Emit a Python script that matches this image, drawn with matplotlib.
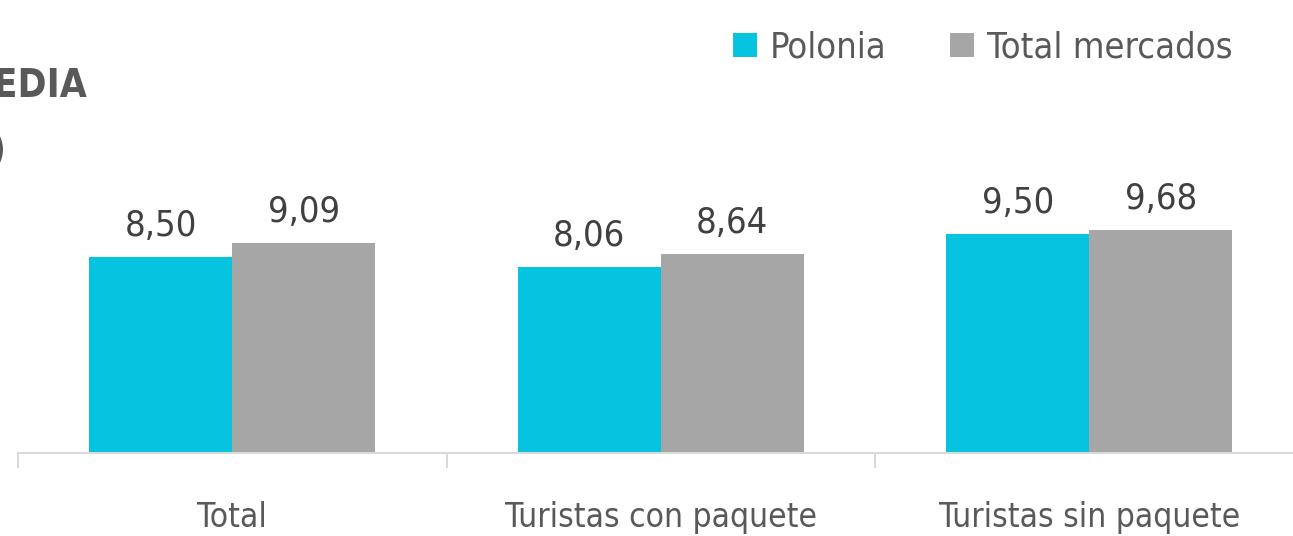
import matplotlib
matplotlib.use("Agg")
import matplotlib.pyplot as plt
from matplotlib import font_manager
from matplotlib.patches import Rectangle

categories = ["Total", "Turistas con paquete", "Turistas sin paquete"]
series_names = ["Polonia", "Total mercados"]
polonia = [8.50, 8.06, 9.50]
total_mercados = [9.09, 8.64, 9.68]
value_labels_polonia = ["8,50", "8,06", "9,50"]
value_labels_total = ["9,09", "8,64", "9,68"]

colors = ["#06C3E0", "#A6A6A6"]
text_gray = "#595959"
value_gray = "#404040"

available = {f.name for f in font_manager.fontManager.ttflist}
if "Liberation Sans Narrow" in available:
    FAM = ["Liberation Sans Narrow", "DejaVu Sans"]
    STRETCH = "normal"
else:
    FAM = ["DejaVu Sans"]
    STRETCH = "condensed"
plt.rcParams["font.family"] = FAM

W, H = 1293, 536
fig = plt.figure(figsize=(W / 100, H / 100), dpi=100)

ax_left = 18
cat_w = 428.5
ax_w = 3 * cat_w
base_y = 453
ymax = 12.0
px_per_unit = 23.06
ax_h = ymax * px_per_unit
ax = fig.add_axes([ax_left / W, (H - base_y) / H, ax_w / W, ax_h / H])
ax.set_xlim(-0.5, 2.5)
ax.set_ylim(0, ymax)

bw = 143 / cat_w
x = range(len(categories))
b1 = ax.bar([i - bw / 2 for i in x], polonia, width=bw, color=colors[0], zorder=2)
b2 = ax.bar([i + bw / 2 for i in x], total_mercados, width=bw, color=colors[1], zorder=2)

for bars, labels in ((b1, value_labels_polonia), (b2, value_labels_total)):
    for r, lab in zip(bars, labels):
        ax.annotate(lab, (r.get_x() + r.get_width() / 2, r.get_height()),
                    xytext=(0, 21), textcoords="offset pixels",
                    ha="center", va="baseline", fontsize=26, color=value_gray,
                    fontstretch=STRETCH, fontweight="medium", clip_on=False)

for s in ["top", "right", "left"]:
    ax.spines[s].set_visible(False)
ax.spines["bottom"].set_color("#D9D9D9")
ax.spines["bottom"].set_linewidth(1.5)
ax.set_yticks([])
ax.set_xticks([-0.5, 0.5, 1.5, 2.5])
ax.set_xticklabels([])
ax.tick_params(axis="x", length=11, width=1.5, color="#D9D9D9")

for i, c in enumerate(categories):
    ax.annotate(c, (i, 0), xycoords=("data", "axes fraction"),
                xytext=(0, -74), textcoords="offset pixels",
                ha="center", va="baseline", fontsize=24, color=text_gray,
                fontstretch=STRETCH)

# legend
leg_items = [(733, series_names[0], colors[0]), (950, series_names[1], colors[1])]
for lx, name, col in leg_items:
    fig.add_artist(Rectangle((lx / W, (H - 57) / H), 24 / W, 24 / H,
                             transform=fig.transFigure, color=col, lw=0))
    fig.text((lx + 37) / W, (H - 57) / H, name, ha="left", va="baseline",
             fontsize=26, color=text_gray, fontstretch=STRETCH)

# title (cut off at left edge as in the reference)
fig.text(87 / W, (H - 98) / H, "ESTANCIA MEDIA", ha="right", va="baseline",
         fontsize=28, fontweight="bold", color=text_gray, fontstretch=STRETCH)
fig.text(6 / W, (H - 162) / H, "(noches)", ha="right", va="baseline",
         fontsize=28, fontweight="bold", color=text_gray, fontstretch=STRETCH)

fig.savefig("out.png", dpi=100)
